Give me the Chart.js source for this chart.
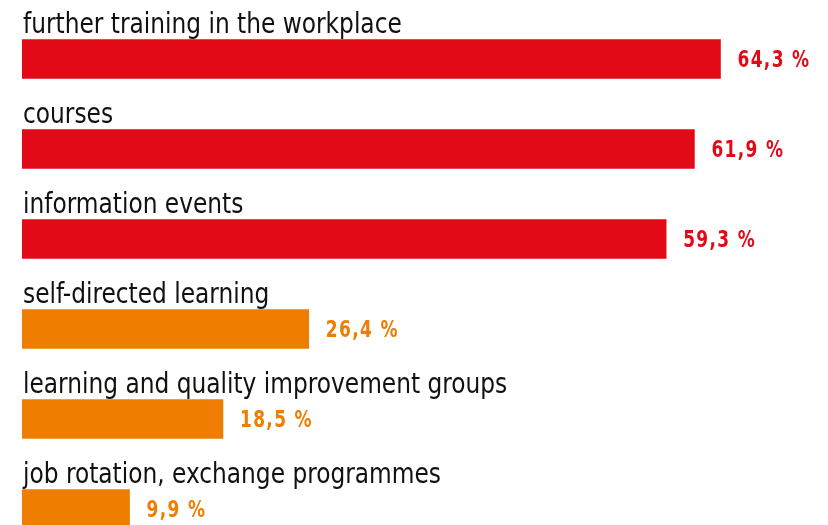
<!DOCTYPE html>
<html>
<head>
<meta charset="utf-8">
<script src="https://cdn.jsdelivr.net/npm/chart.js@4"></script>
<style>
  html, body { margin: 0; padding: 0; background: #fff; overflow: hidden; }
  .wrap { width: 828px; height: 560px; position: relative; }
</style>
</head>
<body>
<div class="wrap"><canvas id="chart"></canvas></div>
<script>
const categories = [
    'further training in the workplace',
    'courses',
    'information events',
    'self-directed learning',
    'learning and quality improvement groups',
    'job rotation, exchange programmes'
];
const shares = [64.3, 61.9, 59.3, 26.4, 18.5, 9.9];
const barColors = ['#e20a17', '#e20a17', '#e20a17', '#ef7d00', '#ef7d00', '#ef7d00'];

const labelFont = '"Liberation Sans Narrow", "DejaVu Sans Condensed", "Roboto", sans-serif';

// labels above the bars and values to the right
const barTexts = {
    id: 'barTexts',
    afterDatasetsDraw(chart) {
        const ctx = chart.ctx;
        const meta = chart.getDatasetMeta(0);
        meta.data.forEach((bar, i) => {
            const top = bar.y - bar.height / 2;
            const left = chart.chartArea.left + 1;

            // category name, squeezed a bit to look condensed
            ctx.save();
            ctx.translate(left, top - 7);
            ctx.scale(0.925, 1);
            ctx.fillStyle = '#111';
            ctx.font = '28px ' + labelFont;
            ctx.textAlign = 'left';
            ctx.textBaseline = 'alphabetic';
            ctx.fillText(categories[i], 0, 0);
            ctx.restore();

            ctx.save();
            ctx.translate(bar.x + 17, bar.y + 2);
            ctx.scale(0.9, 1.08);
            ctx.fillStyle = barColors[i];
            ctx.font = 'bold 21px ' + labelFont;
            ctx.letterSpacing = '1.5px';
            ctx.textBaseline = 'middle';
            ctx.fillText(shares[i].toFixed(1).replace('.', ',') + ' %', 0, 0);
            ctx.restore();
        });
    }
};

new Chart(document.getElementById('chart'), {
    type: 'bar',
    data: {
        labels: categories,
        datasets: [{
            data: shares,
            backgroundColor: barColors,
            barThickness: 39,
            borderWidth: 0
        }]
    },
    options: {
        indexAxis: 'y',
        responsive: true,
        maintainAspectRatio: false,
        animation: false,
        layout: { padding: { left: 22, right: 0, top: 14, bottom: 6 } },
        scales: {
            x: { display: false, min: 0, max: 74.2 },
            y: { display: false }
        },
        plugins: {
            legend: { display: false },
            tooltip: { enabled: false }
        }
    },
    plugins: [barTexts]
});
</script>
</body>
</html>
